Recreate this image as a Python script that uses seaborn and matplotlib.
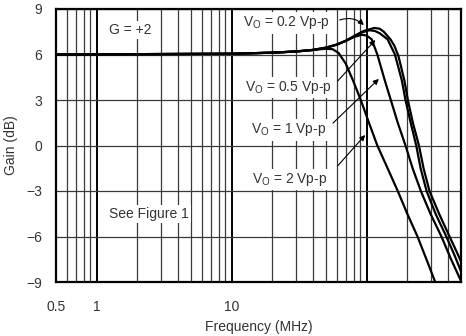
import numpy as np
import pandas as pd
import matplotlib
matplotlib.use("Agg")
import matplotlib.pyplot as plt
import seaborn as sns

# ---- data ----
f_2v = [0.5, 10, 20, 30, 40, 50, 56, 62, 70, 79, 90.5, 105, 120, 138, 155, 170, 200, 238, 280, 322]
g_2v = [6.0, 6.05, 6.12, 6.2, 6.3, 6.38, 6.35, 6.1, 5.4, 4.32, 3.0, 1.4, 0.0, -1.2, -2.2, -3.0, -4.5, -6.0, -7.6, -9.0]

f_1v = [0.5, 10, 20, 30, 40, 50, 60, 70, 80, 92, 100, 109, 120, 136, 151, 170, 194, 219, 252, 297, 358, 422, 498]
g_1v = [6.0, 6.05, 6.12, 6.2, 6.3, 6.45, 6.65, 6.9, 7.15, 7.3, 7.25, 7.0, 6.0, 4.32, 3.0, 1.5, 0.0, -1.5, -3.0, -4.5, -6.0, -7.5, -8.9]

f_05v = [0.5, 10, 20, 30, 40, 50, 60, 70, 80, 92, 105, 115, 125, 143, 162, 182, 194, 212, 233, 251, 278, 324, 389, 446, 500]
g_05v = [6.0, 6.05, 6.12, 6.2, 6.3, 6.45, 6.65, 6.9, 7.15, 7.45, 7.6, 7.55, 7.4, 7.0, 6.0, 4.32, 3.0, 1.5, 0.0, -1.5, -3.0, -4.5, -6.0, -7.2, -8.3]

f_02v = [0.5, 10, 20, 30, 40, 50, 60, 70, 80, 95, 114, 125, 134, 150, 160, 172, 190, 202, 220, 244, 264, 292, 344, 411, 464, 500]
g_02v = [6.0, 6.05, 6.12, 6.2, 6.3, 6.45, 6.65, 6.9, 7.2, 7.55, 7.75, 7.7, 7.5, 7.0, 6.6, 5.9, 4.32, 3.0, 1.5, 0.0, -1.5, -3.0, -4.5, -6.0, -7.0, -7.65]

series_names = ["2 Vp-p", "1 Vp-p", "0.5 Vp-p", "0.2 Vp-p"]
x_major = [0.5, 1, 10, 100]
x_major_labels = ["0.5", "1", "10", ""]
x_minor = [0.6, 0.7, 0.8, 0.9, 2, 3, 4, 5, 6, 7, 8, 9,
           20, 30, 40, 50, 60, 70, 80, 90, 200, 300, 400]
y_ticks = [-9, -6, -3, 0, 3, 6, 9]

df = pd.concat([
    pd.DataFrame({"f": f_2v, "g": g_2v, "s": series_names[0]}),
    pd.DataFrame({"f": f_1v, "g": g_1v, "s": series_names[1]}),
    pd.DataFrame({"f": f_05v, "g": g_05v, "s": series_names[2]}),
    pd.DataFrame({"f": f_02v, "g": g_02v, "s": series_names[3]}),
])

sns.set_style("white")
plt.rcParams["font.family"] = ["Liberation Sans", "DejaVu Sans"]
plt.rcParams["axes.unicode_minus"] = True

fig = plt.figure(figsize=(4.66, 3.36), dpi=100)
ax = fig.add_axes([56/466, 1-282/336, 405/466, 273/336])

sns.lineplot(data=df, x="f", y="g", hue="s", palette=["black"]*4,
             linewidth=1.6, legend=False, ax=ax, sort=False, zorder=3)
for ln in ax.get_lines():
    ln.set_solid_joinstyle("round")

ax.set_xscale("log")
ax.set_xlim(0.5, 500)
ax.set_ylim(-9, 9)
ax.set_xticks(x_major)
ax.set_xticklabels(x_major_labels)
ax.set_xticks(x_minor, minor=True)
ax.set_xticklabels([], minor=True)
ax.set_yticks(y_ticks)
ax.set_yticklabels([str(v).replace("-", "\u2212") for v in y_ticks])

ax.xaxis.grid(True, which="major", color="black", lw=1.4)
ax.xaxis.grid(True, which="minor", color="#3a3a3a", lw=0.9)
ax.yaxis.grid(True, which="major", color="#3a3a3a", lw=0.9)
ax.set_axisbelow(True)

ax.tick_params(axis="both", which="both", length=0, labelsize=10, colors="#333333")
ax.tick_params(axis="x", pad=13)
ax.tick_params(axis="y", pad=10)
for sp in ax.spines.values():
    sp.set_color("black")
    sp.set_linewidth(1.6)

ax.set_xlabel("Frequency (MHz)", fontsize=10, color="#333333", labelpad=4)
ax.set_ylabel("Gain (dB)", fontsize=10, color="#333333", labelpad=6)

box = dict(facecolor="white", edgecolor="none", pad=1.5)
ax.text(0.183, 0.923, "G = +2", transform=ax.transAxes, ha="center", va="center",
        fontsize=10, color="#333333", bbox=box, zorder=5)
ax.text(0.2296, 0.249, "See Figure 1", transform=ax.transAxes, ha="center", va="center",
        fontsize=10, color="#333333", bbox=box, zorder=5)

labels = [
    (r"V$_\mathregular{O}$ = 0.2 Vp-p", (0.569, 0.949), (0.694, 0.956), (0.765, 0.934), -0.35),
    (r"V$_\mathregular{O}$ = 0.5 Vp-p", (0.575, 0.711), (0.691, 0.729), (0.793, 0.894), 0.0),
    (r"V$_\mathregular{O}$ = 1 Vp-p", (0.575, 0.557), (0.679, 0.575), (0.802, 0.751), 0.0),
    (r"V$_\mathregular{O}$ = 2 Vp-p", (0.578, 0.374), (0.691, 0.418), (0.768, 0.546), 0.0),
]
for txt, pos, start, end, rad in labels:
    ax.text(pos[0], pos[1], txt, transform=ax.transAxes, ha="center", va="center",
            fontsize=10, color="#333333", bbox=box, zorder=5)
    ax.annotate("", xy=end, xytext=start, xycoords="axes fraction",
                textcoords="axes fraction", zorder=6,
                arrowprops=dict(arrowstyle="-|>", color="black", lw=0.8,
                                mutation_scale=8,
                                connectionstyle=f"arc3,rad={rad}"))

fig.savefig("out.png", dpi=100)
